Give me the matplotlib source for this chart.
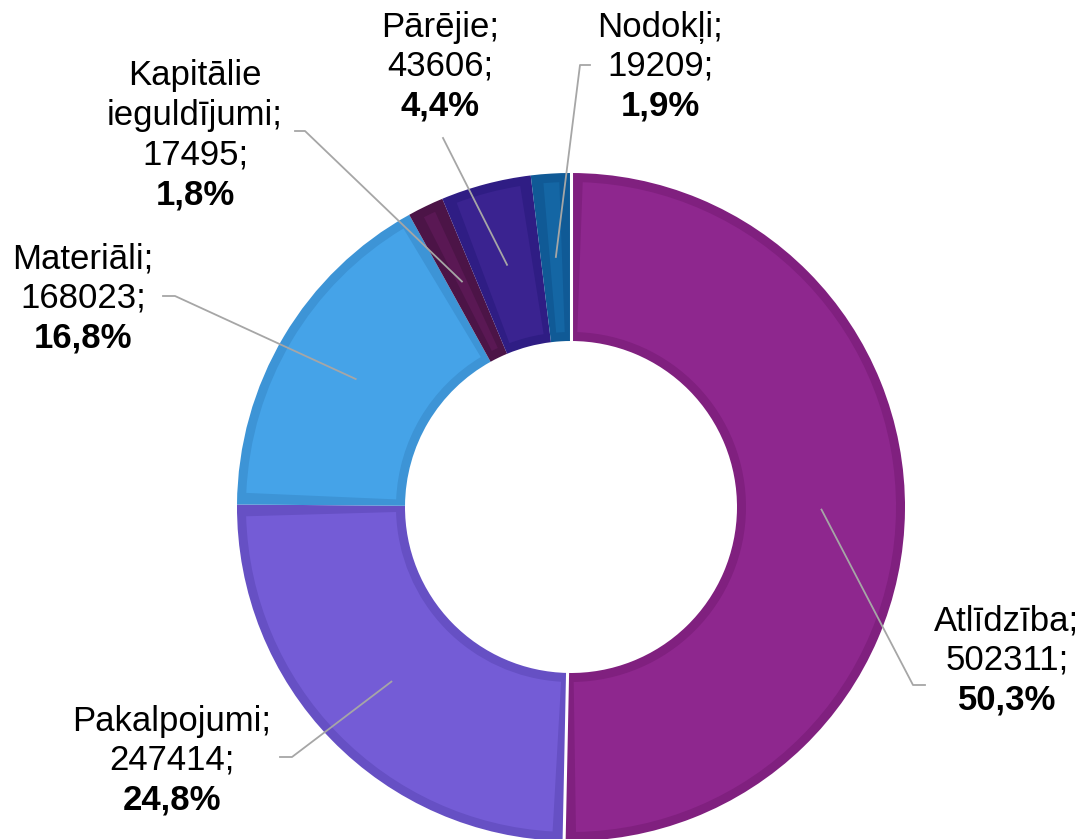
import matplotlib.pyplot as plt
from matplotlib.patches import Wedge
import numpy as np

labels = ['Atlīdzība', 'Pakalpojumi', 'Materiāli', 'Kapitālie\nieguldījumi', 'Pārējie', 'Nodokļi']
values = [502311, 247414, 168023, 17495, 43606, 19209]
fills = ['#8E278E', '#745CD6', '#45A3E8', '#5A1854', '#3A2390', '#1466A4']
edges = ['#80207F', '#6650C4', '#3D94D6', '#4C1447', '#2F1D84', '#105A96']

# label text positions (pixels from top-left) and leader elbows
text_pos = [(1007, 621), (172, 721), (83, 259), (195, 76), (440, 27), (660, 27)]
elbows = [[(913, 685), (925, 685)], [(292, 757), (280, 757)], [(175, 296), (163, 296)],
          [(305, 131), (295, 131)], [(443, 138)], [(580, 65), (590, 65)]]

W, H = 1084, 839
cx, cy, R = 571, 507, 334
width = R * 0.503
border = 9

fig = plt.figure(figsize=(W / 100, H / 100), dpi=100)
ax = fig.add_axes([0, 0, 1, 1])

# y axis is inverted, so counterclock=True runs clockwise on screen
wedges, _ = ax.pie(values, center=(cx, cy), radius=R, startangle=-90, counterclock=True,
                   colors=edges, wedgeprops=dict(width=width, linewidth=0), frame=True)
ax.set_xlim(0, W)
ax.set_ylim(H, 0)
ax.set_aspect('equal')
ax.axis('off')

rmid = R - width / 2
dth = np.degrees(border / rmid)
for w, c in zip(wedges, fills):
    ax.add_patch(Wedge((cx, cy), R - border, w.theta1 + dth, w.theta2 - dth,
                       width=width - 2 * border, facecolor=c, linewidth=0))

# thin white separators on both sides of the biggest wedge
w0 = wedges[0]
for th in (w0.theta1, w0.theta2):
    t = np.deg2rad(th)
    r = np.array([R - width - 2, R + 2])
    ax.plot(cx + r * np.cos(t), cy + r * np.sin(t), color='white', lw=2.2, zorder=4)

total = sum(values)
step = 39.5
for i, w in enumerate(wedges):
    mid = np.deg2rad((w.theta1 + w.theta2) / 2)
    ax0 = cx + 0.75 * R * np.cos(mid)
    ay0 = cy + 0.75 * R * np.sin(mid)
    pts = [(ax0, ay0)] + elbows[i]
    ax.plot([p[0] for p in pts], [p[1] for p in pts], color='#A6A6A6', lw=1.3, zorder=5)

    pct = f'{values[i] / total * 100:.1f}'.replace('.', ',') + '%'
    lines = (labels[i] + ';').split('\n') + [f'{values[i]};']
    x, y = text_pos[i]
    for k, s in enumerate(lines):
        ax.text(x, y + k * step, s, ha='center', va='center', fontsize=25,
                family='Liberation Sans', color='black')
    ax.text(x, y + len(lines) * step, pct, ha='center', va='center', fontsize=25,
            family='Liberation Sans', fontweight='bold', color='black')

fig.savefig('out.png', dpi=100)
